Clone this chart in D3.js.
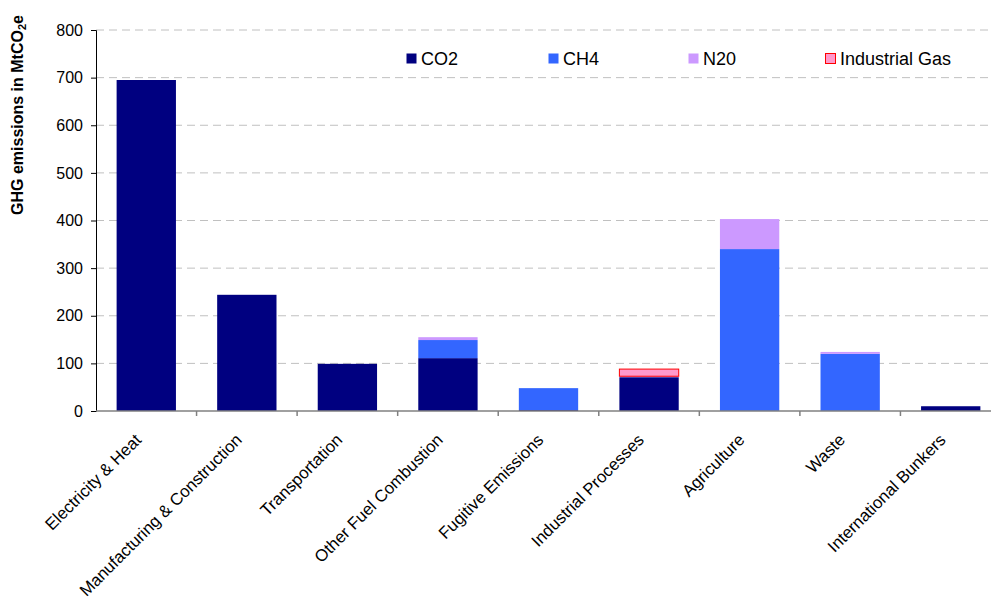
<!DOCTYPE html>
<html>
<head>
<meta charset="utf-8">
<script src="https://cdn.jsdelivr.net/npm/d3@7"></script>
<style>
  body { margin: 0; background: #fff; }
  text { font-family: Arial, "Liberation Sans", sans-serif; }
</style>
</head>
<body>
<div id="chart"></div>
<script>
// categories and series values (MtCO2e)
const categories = ["Electricity & Heat", "Manufacturing & Construction", "Transportation",
    "Other Fuel Combustion", "Fugitive Emissions", "Industrial Processes", "Agriculture",
    "Waste", "International Bunkers"];
const co2 = [695, 244, 99, 111, 2, 71, 0, 0, 10];
const ch4 = [0, 0, 0, 38, 46, 0, 340, 120, 0];
const n2o = [0, 0, 0, 6, 0, 2, 63, 4, 0];
const industrialGas = [0, 0, 0, 0, 0, 15, 0, 0, 0];
const seriesNames = ["CO2", "CH4", "N20", "Industrial Gas"];
const yTicks = [0, 100, 200, 300, 400, 500, 600, 700, 800];

const colors = {"CO2": "#000080", "CH4": "#3366FF", "N20": "#CC99FF", "Industrial Gas": "#FF99CC"};
const strokes = {"Industrial Gas": "#FF0000"};

const width = 991, height = 597;
const margin = {top: 30, right: -10, bottom: 186, left: 96};
const innerW = width - margin.left - margin.right;
const innerH = height - margin.top - margin.bottom;

const svg = d3.select("#chart").append("svg")
    .attr("width", width)
    .attr("height", height);

const g = svg.append("g")
    .attr("transform", "translate(" + margin.left + "," + margin.top + ")");

// build table for stacking
const table = categories.map((c, i) => ({
    category: c,
    "CO2": co2[i],
    "CH4": ch4[i],
    "N20": n2o[i],
    "Industrial Gas": industrialGas[i]
}));

const x = d3.scaleBand()
    .domain(categories)
    .range([0, innerW])
    .paddingInner(0.41)
    .paddingOuter(0.205);

const y = d3.scaleLinear()
    .domain([0, 800])
    .range([innerH, 0]);

// gridlines
g.append("g")
    .selectAll("line")
    .data(yTicks.filter(d => d > 0))
    .enter().append("line")
    .attr("x1", 0)
    .attr("x2", innerW)
    .attr("y1", d => y(d))
    .attr("y2", d => y(d))
    .attr("stroke", "#c0c0c0")
    .attr("stroke-width", 1)
    .attr("stroke-dasharray", "8,5");

// stacked bars
const stack = d3.stack().keys(seriesNames);
const layers = stack(table);

g.selectAll(".layer")
    .data(layers)
    .enter().append("g")
    .attr("class", "layer")
    .attr("fill", d => colors[d.key])
    .attr("stroke", d => strokes[d.key] || "none")
    .attr("stroke-width", 1)
    .selectAll("rect")
    .data(d => d.filter(s => s[1] - s[0] > 0))
    .enter().append("rect")
    .attr("x", d => x(d.data.category))
    .attr("y", d => y(d[1]))
    .attr("width", x.bandwidth())
    .attr("height", d => y(d[0]) - y(d[1]));

// y axis
const yAxis = d3.axisLeft(y)
    .tickValues(yTicks)
    .tickSize(5)
    .tickPadding(8);

const yG = g.append("g")
    .attr("class", "y-axis")
    .call(yAxis);
yG.select(".domain").attr("stroke", "#000");
yG.selectAll(".tick line").attr("stroke", "#000");
yG.selectAll("text")
    .attr("font-size", "16px")
    .attr("fill", "#000")
    .style("font-family", "Arial, 'Liberation Sans', sans-serif");

// x axis: tick marks at band boundaries
const step = x.step();
const xG = g.append("g")
    .attr("transform", "translate(0," + innerH + ")");
xG.append("line")
    .attr("x1", 0)
    .attr("x2", innerW)
    .attr("stroke", "#808080")
    .attr("stroke-width", 1.5);
xG.selectAll(".xtick")
    .data(d3.range(1, categories.length))
    .enter().append("line")
    .attr("class", "xtick")
    .attr("x1", d => d * step)
    .attr("x2", d => d * step)
    .attr("y1", 0)
    .attr("y2", 5)
    .attr("stroke", "#808080")
    .attr("stroke-width", 1.5);

xG.selectAll(".xlabel")
    .data(categories)
    .enter().append("text")
    .attr("class", "xlabel")
    .attr("transform", d => "translate(" + (x(d) + x.bandwidth() / 2 - 4) + ",30) rotate(-45)")
    .attr("text-anchor", "end")
    .attr("font-size", "16.8px")
    .attr("fill", "#000")
    .text(d => d);

// y axis title
const title = svg.append("text")
    .attr("transform", "translate(23,115) rotate(-90)")
    .attr("text-anchor", "middle")
    .attr("font-size", "16px")
    .attr("font-weight", "bold")
    .attr("fill", "#000");
title.append("tspan").text("GHG emissions in MtCO");
title.append("tspan").attr("font-size", "11px").attr("dy", "3").text("2");
title.append("tspan").attr("dy", "-3").text("e");

// legend
const legendX = [406, 548, 688, 825];
const legend = svg.append("g");
const items = legend.selectAll("g")
    .data(seriesNames)
    .enter().append("g")
    .attr("transform", (d, i) => "translate(" + legendX[i] + ",53)");
items.append("rect")
    .attr("x", 0.5)
    .attr("y", 0.5)
    .attr("width", 10)
    .attr("height", 10)
    .attr("fill", d => colors[d])
    .attr("stroke", d => strokes[d] || "none");
items.append("text")
    .attr("x", 15)
    .attr("y", 11.5)
    .attr("font-size", "18px")
    .attr("fill", "#000")
    .text(d => d);
</script>
</body>
</html>
